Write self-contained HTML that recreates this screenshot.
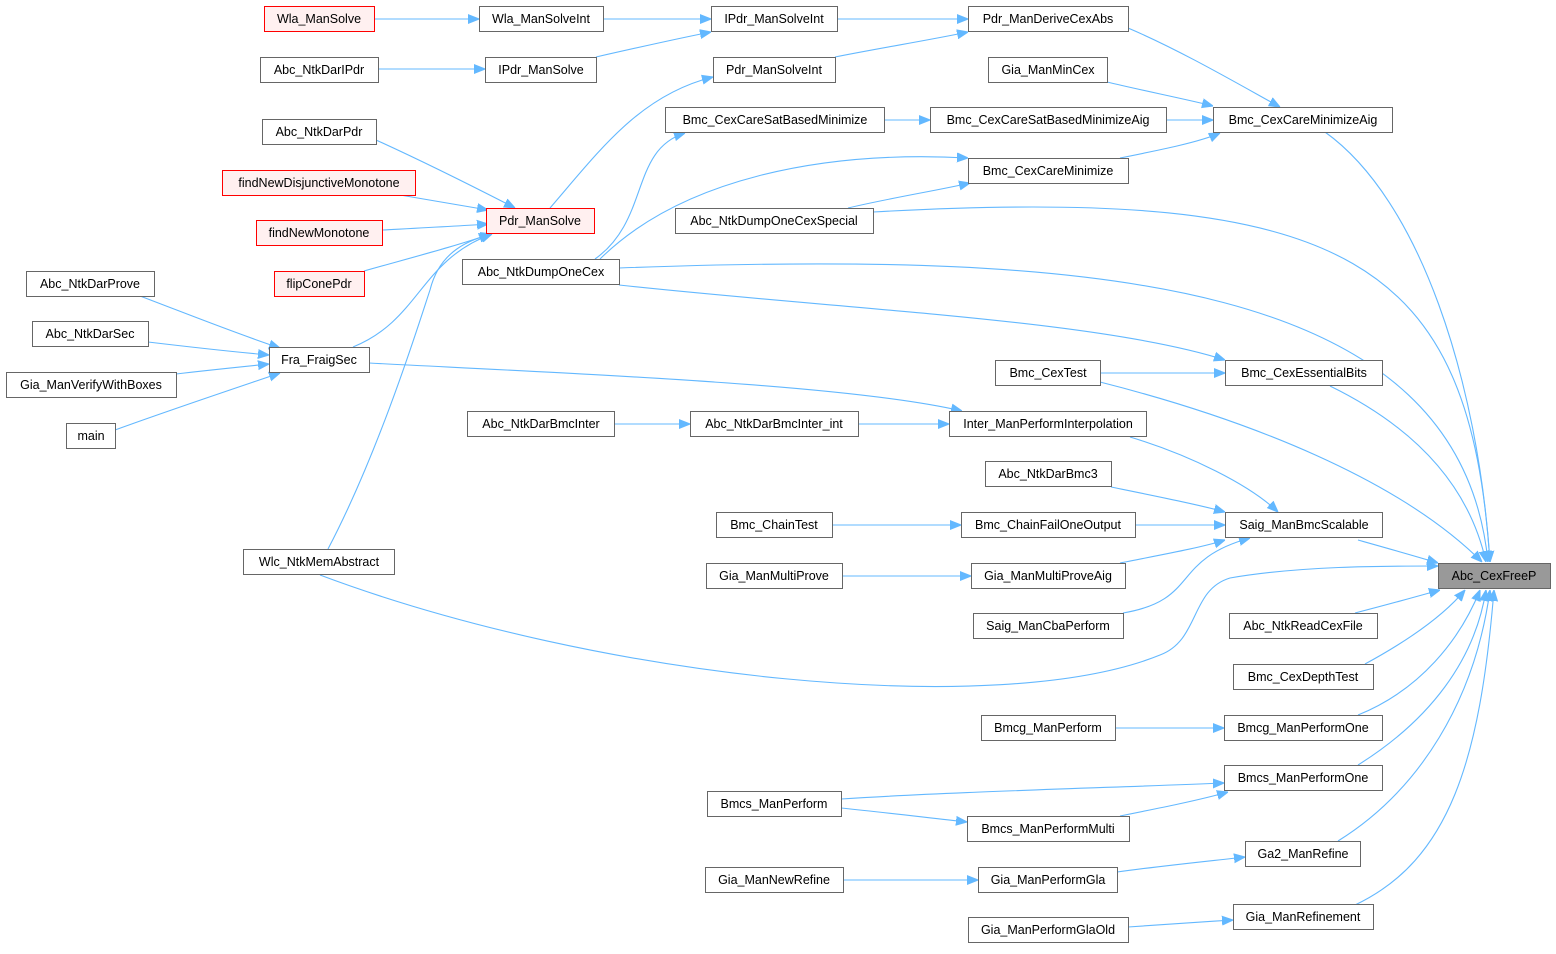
<!DOCTYPE html>
<html><head><meta charset="utf-8"><style>
html,body{margin:0;padding:0;background:#fff;}
svg text{font-family:"Liberation Sans",Arial,sans-serif;font-size:12.5px;fill:#000;text-anchor:middle;dominant-baseline:central;}
.n{fill:#fff;stroke:#666;stroke-width:1;}
.r{fill:#fff0f0;stroke:#f00;stroke-width:1;}
.g{fill:#999;stroke:#666;stroke-width:1;}
.e{fill:none;stroke:#63b8ff;stroke-width:1.1;marker-end:url(#a);}
</style></head><body>
<svg width="1556" height="949" viewBox="0 0 1556 949" xmlns="http://www.w3.org/2000/svg">
<defs><marker id="a" viewBox="0 0 10 10" refX="10" refY="5" markerWidth="11" markerHeight="11" markerUnits="userSpaceOnUse" orient="auto"><path d="M0,1 L10,5 L0,9 z" fill="#63b8ff" stroke="#63b8ff"/></marker></defs>

<path class="e" d="M374,19 L479,19"/>
<path class="e" d="M603,19 L711,19"/>
<path class="e" d="M596,57 C640,47 680,38 711,32"/>
<path class="e" d="M378,69 L485,69"/>
<path class="e" d="M837,19 L968,19"/>
<path class="e" d="M835,57 C880,48 930,40 968,32"/>
<path class="e" d="M550,208 C600,150 640,95 713,77"/>
<path class="e" d="M1128,28 C1180,50 1240,85 1280,107"/>
<path class="e" d="M1107,82 C1140,90 1190,100 1213,106"/>
<path class="e" d="M884,120 L930,120"/>
<path class="e" d="M1166,120 L1213,120"/>
<path class="e" d="M1120,158 C1160,150 1200,142 1220,133"/>
<path class="e" d="M595,259 C650,220 630,150 685,133"/>
<path class="e" d="M600,259 C680,180 820,150 968,158"/>
<path class="e" d="M848,208 C890,198 940,190 970,183"/>
<path class="e" d="M376,140 C420,160 480,190 515,208"/>
<path class="e" d="M400,195 C430,200 460,205 488,210"/>
<path class="e" d="M382,230 C420,228 460,226 488,224"/>
<path class="e" d="M364,271 C410,258 460,245 490,234"/>
<path class="e" d="M353,347 C420,320 420,260 492,234"/>
<path class="e" d="M328,549 C380,450 420,320 430,290 C440,250 470,240 492,234"/>
<path class="e" d="M140,296 C190,315 240,335 280,348"/>
<path class="e" d="M148,342 C190,347 235,352 269,355"/>
<path class="e" d="M176,374 C210,370 240,367 269,364"/>
<path class="e" d="M115,430 C170,410 230,390 280,373"/>
<path class="e" d="M369,363 C600,375 850,385 962,411"/>
<path class="e" d="M614,424 L690,424"/>
<path class="e" d="M858,424 L949,424"/>
<path class="e" d="M1130,437 C1190,455 1250,485 1278,512"/>
<path class="e" d="M1111,487 C1160,497 1200,505 1225,512"/>
<path class="e" d="M832,525 L961,525"/>
<path class="e" d="M1135,525 L1225,525"/>
<path class="e" d="M842,576 L971,576"/>
<path class="e" d="M1120,563 C1160,555 1200,548 1225,540"/>
<path class="e" d="M1123,613 C1200,600 1170,560 1250,538"/>
<path class="e" d="M619,285 C850,310 1100,320 1225,360"/>
<path class="e" d="M1100,373 L1225,373"/>
<path class="e" d="M1325,132 C1420,200 1478,380 1490,562"/>
<path class="e" d="M873,212 C1350,185 1470,260 1490,562"/>
<path class="e" d="M619,268 C1100,250 1460,280 1488,562"/>
<path class="e" d="M1330,386 C1420,430 1470,490 1486,562"/>
<path class="e" d="M1100,382 C1250,420 1400,480 1482,562"/>
<path class="e" d="M1358,540 C1390,549 1415,556 1438,563"/>
<path class="e" d="M320,575 C600,680 1000,720 1160,655 C1200,640 1190,590 1230,578 C1300,566 1380,566 1438,566"/>
<path class="e" d="M1355,613 C1390,604 1415,597 1440,590"/>
<path class="e" d="M1365,664 C1400,645 1440,620 1465,590"/>
<path class="e" d="M1358,715 C1420,690 1460,640 1480,590"/>
<path class="e" d="M1358,765 C1430,720 1475,660 1486,590"/>
<path class="e" d="M1338,841 C1420,790 1475,700 1490,590"/>
<path class="e" d="M1355,905 C1450,860 1480,760 1494,590"/>
<path class="e" d="M1115,728 L1224,728"/>
<path class="e" d="M841,799 C950,792 1100,788 1224,783"/>
<path class="e" d="M841,808 C890,813 930,818 967,822"/>
<path class="e" d="M1120,816 C1160,808 1200,800 1228,792"/>
<path class="e" d="M843,880 L978,880"/>
<path class="e" d="M1117,872 C1160,866 1210,861 1245,857"/>
<path class="e" d="M1128,927 C1170,924 1200,922 1233,920"/>

<rect class="r" x="264.5" y="6.5" width="110" height="25"/><text x="319" y="19">Wla_ManSolve</text>
<rect class="n" x="479.5" y="6.5" width="124" height="25"/><text x="541" y="19">Wla_ManSolveInt</text>
<rect class="n" x="711.5" y="6.5" width="126" height="25"/><text x="774" y="19">IPdr_ManSolveInt</text>
<rect class="n" x="968.5" y="6.5" width="160" height="25"/><text x="1048" y="19">Pdr_ManDeriveCexAbs</text>
<rect class="n" x="260.5" y="57.5" width="118" height="25"/><text x="319" y="70">Abc_NtkDarIPdr</text>
<rect class="n" x="485.5" y="57.5" width="111" height="25"/><text x="541" y="70">IPdr_ManSolve</text>
<rect class="n" x="713.5" y="57.5" width="122" height="25"/><text x="774" y="70">Pdr_ManSolveInt</text>
<rect class="n" x="988.5" y="57.5" width="119" height="25"/><text x="1048" y="70">Gia_ManMinCex</text>
<rect class="n" x="665.5" y="107.5" width="219" height="25"/><text x="775" y="120">Bmc_CexCareSatBasedMinimize</text>
<rect class="n" x="930.5" y="107.5" width="236" height="25"/><text x="1048" y="120">Bmc_CexCareSatBasedMinimizeAig</text>
<rect class="n" x="1213.5" y="107.5" width="179" height="25"/><text x="1303" y="120">Bmc_CexCareMinimizeAig</text>
<rect class="n" x="262.5" y="119.5" width="114" height="25"/><text x="319" y="132">Abc_NtkDarPdr</text>
<rect class="n" x="968.5" y="158.5" width="160" height="25"/><text x="1048" y="171">Bmc_CexCareMinimize</text>
<rect class="r" x="222.5" y="170.5" width="193" height="25"/><text x="319" y="183">findNewDisjunctiveMonotone</text>
<rect class="r" x="486.5" y="208.5" width="108" height="25"/><text x="540" y="221">Pdr_ManSolve</text>
<rect class="n" x="675.5" y="208.5" width="198" height="25"/><text x="774" y="221">Abc_NtkDumpOneCexSpecial</text>
<rect class="r" x="256.5" y="220.5" width="126" height="25"/><text x="319" y="233">findNewMonotone</text>
<rect class="n" x="462.5" y="259.5" width="157" height="25"/><text x="541" y="272">Abc_NtkDumpOneCex</text>
<rect class="n" x="26.5" y="271.5" width="128" height="25"/><text x="90" y="284">Abc_NtkDarProve</text>
<rect class="r" x="274.5" y="271.5" width="90" height="25"/><text x="319" y="284">flipConePdr</text>
<rect class="n" x="32.5" y="321.5" width="116" height="25"/><text x="90" y="334">Abc_NtkDarSec</text>
<rect class="n" x="269.5" y="347.5" width="100" height="25"/><text x="319" y="360">Fra_FraigSec</text>
<rect class="n" x="995.5" y="360.5" width="105" height="25"/><text x="1048" y="373">Bmc_CexTest</text>
<rect class="n" x="1225.5" y="360.5" width="157" height="25"/><text x="1304" y="373">Bmc_CexEssentialBits</text>
<rect class="n" x="6.5" y="372.5" width="170" height="25"/><text x="91" y="385">Gia_ManVerifyWithBoxes</text>
<rect class="n" x="467.5" y="411.5" width="147" height="25"/><text x="541" y="424">Abc_NtkDarBmcInter</text>
<rect class="n" x="690.5" y="411.5" width="168" height="25"/><text x="774" y="424">Abc_NtkDarBmcInter_int</text>
<rect class="n" x="949.5" y="411.5" width="197" height="25"/><text x="1048" y="424">Inter_ManPerformInterpolation</text>
<rect class="n" x="66.5" y="423.5" width="49" height="25"/><text x="91" y="436">main</text>
<rect class="n" x="985.5" y="461.5" width="126" height="25"/><text x="1048" y="474">Abc_NtkDarBmc3</text>
<rect class="n" x="716.5" y="512.5" width="116" height="25"/><text x="774" y="525">Bmc_ChainTest</text>
<rect class="n" x="961.5" y="512.5" width="174" height="25"/><text x="1048" y="525">Bmc_ChainFailOneOutput</text>
<rect class="n" x="1225.5" y="512.5" width="157" height="25"/><text x="1304" y="525">Saig_ManBmcScalable</text>
<rect class="n" x="243.5" y="549.5" width="151" height="25"/><text x="319" y="562">Wlc_NtkMemAbstract</text>
<rect class="n" x="706.5" y="563.5" width="136" height="25"/><text x="774" y="576">Gia_ManMultiProve</text>
<rect class="n" x="971.5" y="563.5" width="154" height="25"/><text x="1048" y="576">Gia_ManMultiProveAig</text>
<rect class="g" x="1438.5" y="563.5" width="112" height="25"/><text x="1494" y="576">Abc_CexFreeP</text>
<rect class="n" x="973.5" y="613.5" width="150" height="25"/><text x="1048" y="626">Saig_ManCbaPerform</text>
<rect class="n" x="1229.5" y="613.5" width="148" height="25"/><text x="1303" y="626">Abc_NtkReadCexFile</text>
<rect class="n" x="1233.5" y="664.5" width="140" height="25"/><text x="1303" y="677">Bmc_CexDepthTest</text>
<rect class="n" x="981.5" y="715.5" width="134" height="25"/><text x="1048" y="728">Bmcg_ManPerform</text>
<rect class="n" x="1224.5" y="715.5" width="158" height="25"/><text x="1303" y="728">Bmcg_ManPerformOne</text>
<rect class="n" x="1224.5" y="765.5" width="158" height="25"/><text x="1303" y="778">Bmcs_ManPerformOne</text>
<rect class="n" x="707.5" y="791.5" width="134" height="25"/><text x="774" y="804">Bmcs_ManPerform</text>
<rect class="n" x="967.5" y="816.5" width="162" height="25"/><text x="1048" y="829">Bmcs_ManPerformMulti</text>
<rect class="n" x="1245.5" y="841.5" width="115" height="25"/><text x="1303" y="854">Ga2_ManRefine</text>
<rect class="n" x="705.5" y="867.5" width="138" height="25"/><text x="774" y="880">Gia_ManNewRefine</text>
<rect class="n" x="978.5" y="867.5" width="139" height="25"/><text x="1048" y="880">Gia_ManPerformGla</text>
<rect class="n" x="1233.5" y="904.5" width="140" height="25"/><text x="1303" y="917">Gia_ManRefinement</text>
<rect class="n" x="968.5" y="917.5" width="160" height="25"/><text x="1048" y="930">Gia_ManPerformGlaOld</text>
</svg>
</body></html>
